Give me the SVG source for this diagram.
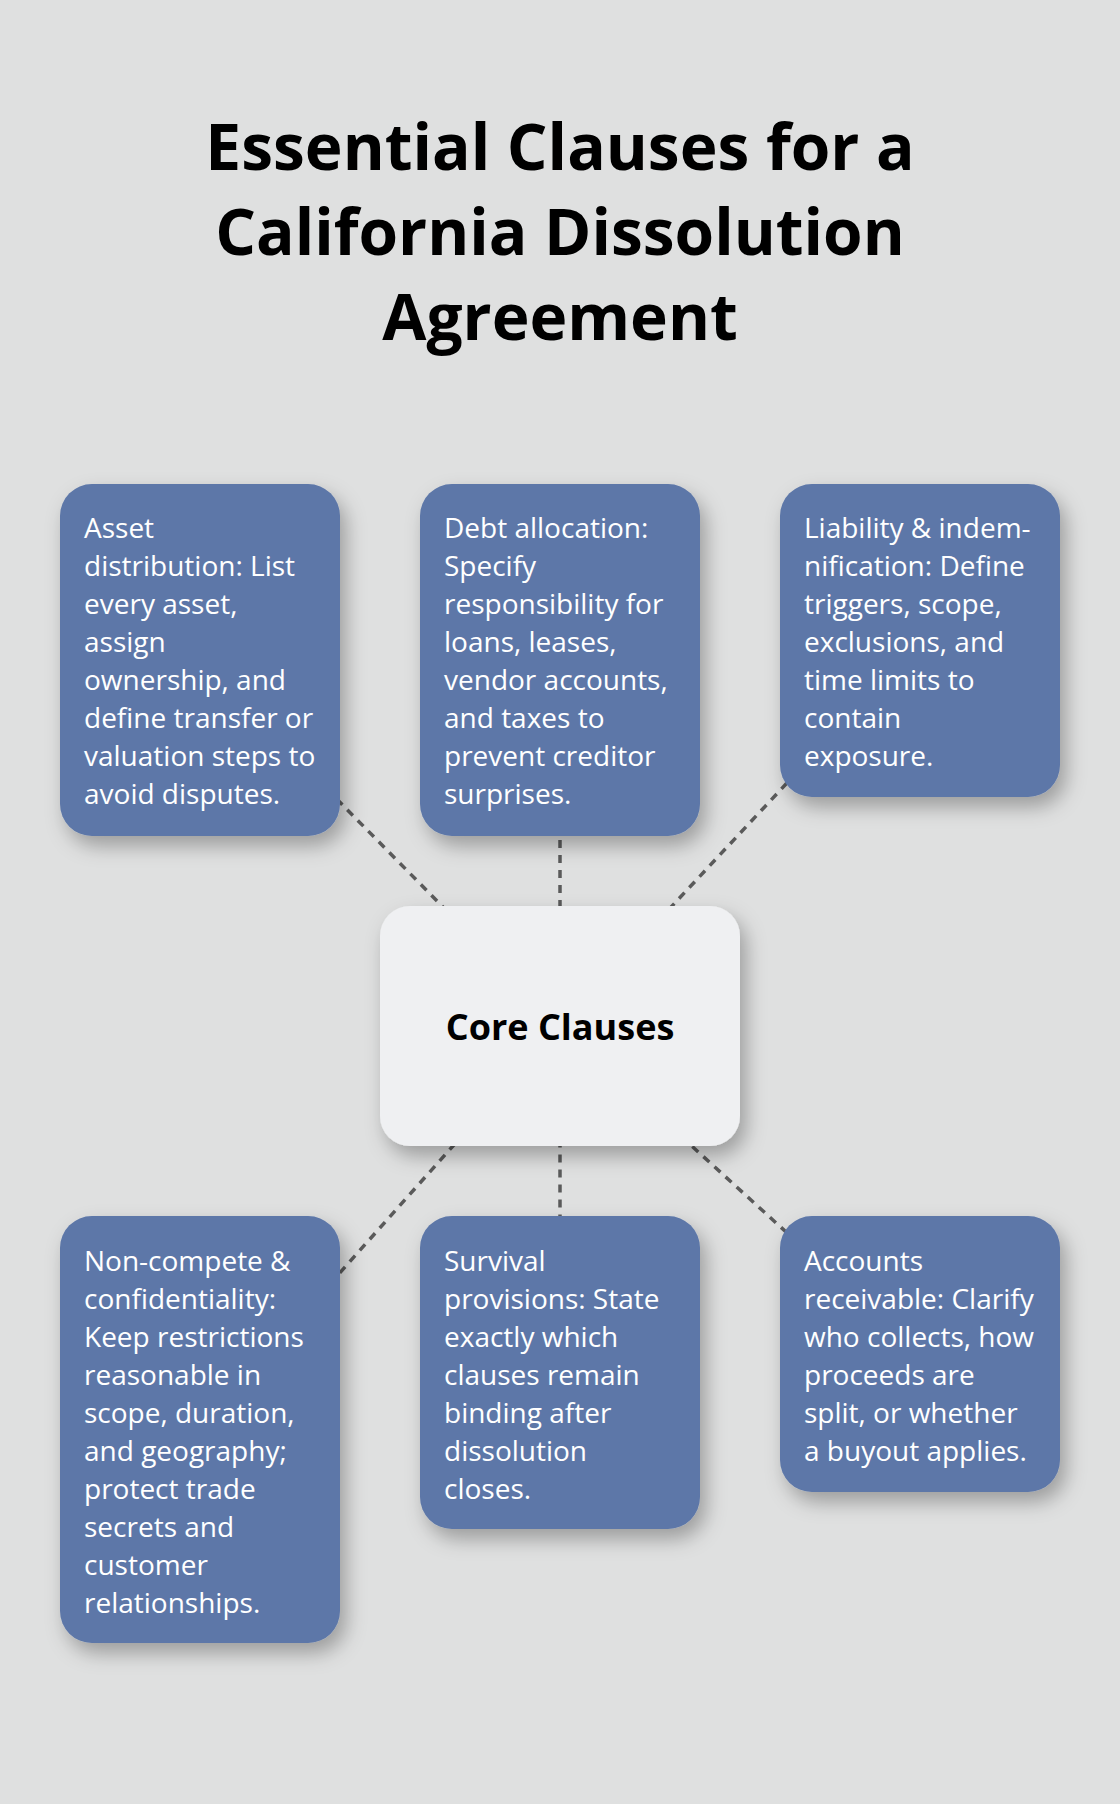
<svg xmlns="http://www.w3.org/2000/svg" width="1120" height="1804" viewBox="0 0 1120 1804">
<defs>
<filter id="sh" x="-25%" y="-25%" width="160%" height="160%">
<feDropShadow dx="6" dy="10" stdDeviation="10" flood-color="#000" flood-opacity="0.3"/>
</filter>
<style>
.bg{fill:#dfe0e0}
.title{font-family:"Open Sans","Noto Sans",sans-serif;font-weight:700;font-size:64px;fill:#000;text-anchor:middle}
.box{fill:#5d77a8;filter:url(#sh)}
.core{fill:#eff0f2;filter:url(#sh)}
.t{font-family:"Open Sans","Noto Sans",sans-serif;font-size:28px;fill:#fff}
.ct{font-family:"Open Sans","Noto Sans",sans-serif;font-size:36px;font-weight:700;fill:#000;text-anchor:middle}
.c{stroke:#5a5a5a;stroke-width:3.5;stroke-dasharray:8 7;fill:none}
</style>
</defs>
<rect class="bg" x="0" y="0" width="1120" height="1804"/>
<g id="title">
<text class="title" x="560" y="170">Essential Clauses for a</text>
<text class="title" x="560" y="255">California Dissolution</text>
<text class="title" x="560" y="340">Agreement</text>
</g>
<g id="connectors">
<line class="c" x1="200" y1="660" x2="560" y2="1026"/>
<line class="c" x1="560" y1="660" x2="560" y2="1026"/>
<line class="c" x1="920" y1="640.5" x2="560" y2="1026"/>
<line class="c" x1="200" y1="1429.5" x2="560" y2="1026"/>
<line class="c" x1="560" y1="1372.5" x2="560" y2="1026"/>
<line class="c" x1="920" y1="1354" x2="560" y2="1026"/>
</g>
<g id="asset">
<rect class="box" x="60" y="484" width="280" height="352" rx="32"/>
<text class="t" x="84" y="538">Asset</text>
<text class="t" x="84" y="576">distribution: List</text>
<text class="t" x="84" y="614">every asset,</text>
<text class="t" x="84" y="652">assign</text>
<text class="t" x="84" y="690">ownership, and</text>
<text class="t" x="84" y="728">define transfer or</text>
<text class="t" x="84" y="766">valuation steps to</text>
<text class="t" x="84" y="804">avoid disputes.</text>
</g>
<g id="debt">
<rect class="box" x="420" y="484" width="280" height="352" rx="32"/>
<text class="t" x="444" y="538">Debt allocation:</text>
<text class="t" x="444" y="576">Specify</text>
<text class="t" x="444" y="614">responsibility for</text>
<text class="t" x="444" y="652">loans, leases,</text>
<text class="t" x="444" y="690">vendor accounts,</text>
<text class="t" x="444" y="728">and taxes to</text>
<text class="t" x="444" y="766">prevent creditor</text>
<text class="t" x="444" y="804">surprises.</text>
</g>
<g id="liability">
<rect class="box" x="780" y="484" width="280" height="313" rx="32"/>
<text class="t" x="804" y="538">Liability &amp; indem-</text>
<text class="t" x="804" y="576">nification: Define</text>
<text class="t" x="804" y="614">triggers, scope,</text>
<text class="t" x="804" y="652">exclusions, and</text>
<text class="t" x="804" y="690">time limits to</text>
<text class="t" x="804" y="728">contain</text>
<text class="t" x="804" y="766">exposure.</text>
</g>
<g id="core">
<rect class="core" x="380" y="906" width="360" height="240" rx="30"/>
<text class="ct" x="560" y="1040">Core Clauses</text>
</g>
<g id="noncompete">
<rect class="box" x="60" y="1216" width="280" height="427" rx="32"/>
<text class="t" x="84" y="1271">Non-compete &amp;</text>
<text class="t" x="84" y="1309">confidentiality:</text>
<text class="t" x="84" y="1347">Keep restrictions</text>
<text class="t" x="84" y="1385">reasonable in</text>
<text class="t" x="84" y="1423">scope, duration,</text>
<text class="t" x="84" y="1461">and geography;</text>
<text class="t" x="84" y="1499">protect trade</text>
<text class="t" x="84" y="1537">secrets and</text>
<text class="t" x="84" y="1575">customer</text>
<text class="t" x="84" y="1613">relationships.</text>
</g>
<g id="survival">
<rect class="box" x="420" y="1216" width="280" height="313" rx="32"/>
<text class="t" x="444" y="1271">Survival</text>
<text class="t" x="444" y="1309">provisions: State</text>
<text class="t" x="444" y="1347">exactly which</text>
<text class="t" x="444" y="1385">clauses remain</text>
<text class="t" x="444" y="1423">binding after</text>
<text class="t" x="444" y="1461">dissolution</text>
<text class="t" x="444" y="1499">closes.</text>
</g>
<g id="accounts">
<rect class="box" x="780" y="1216" width="280" height="276" rx="32"/>
<text class="t" x="804" y="1271">Accounts</text>
<text class="t" x="804" y="1309">receivable: Clarify</text>
<text class="t" x="804" y="1347">who collects, how</text>
<text class="t" x="804" y="1385">proceeds are</text>
<text class="t" x="804" y="1423">split, or whether</text>
<text class="t" x="804" y="1461">a buyout applies.</text>
</g>
</svg>
